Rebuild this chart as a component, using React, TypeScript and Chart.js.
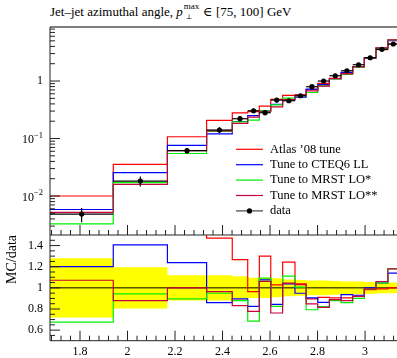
import React, { useEffect, useRef } from "react";
import { Chart, registerables } from "chart.js";
Chart.register(...registerables);

// ---- data ----
const binEdges = [1.6737, 1.94, 2.168, 2.333, 2.441, 2.506, 2.555, 2.603, 2.653, 2.705, 2.752, 2.801, 2.85, 2.899, 2.948, 2.997, 3.046, 3.096, 3.1416];
const dataValues = [0.00486, 0.0182, 0.0614, 0.1406, 0.221, 0.304, 0.281, 0.467, 0.454, 0.555, 0.796, 1.0, 1.236, 1.51, 1.92, 2.54, 3.56, 4.4];
const dataRelErr = [0.28, 0.195, 0.12, 0.12, 0.11, 0.095, 0.095, 0.09, 0.08, 0.075, 0.07, 0.07, 0.065, 0.06, 0.06, 0.055, 0.05, 0.05];
const ratioAtlas = [2.06, 1.95, 1.75, 1.47, 1.267, 0.965, 1.3, 1.029, 1.244, 1.038, 0.895, 0.91, 0.905, 0.905, 0.92, 0.984, 0.99, 1.0];
const ratioCTEQ = [1.2, 1.406, 1.238, 0.86, 0.895, 0.825, 1.076, 0.844, 1.038, 0.949, 0.905, 0.863, 0.889, 0.936, 0.93, 1.0, 1.046, 1.14];
const ratioMRST1 = [0.676, 0.943, 0.895, 0.949, 0.879, 0.686, 1.092, 0.825, 1.11, 1.006, 0.793, 0.822, 0.879, 0.86, 0.9, 0.99, 1.046, 1.18];
const ratioMRST2 = [1.072, 0.879, 1.0, 0.965, 0.831, 0.777, 1.06, 0.762, 1.044, 1.03, 0.848, 0.815, 0.889, 0.879, 0.92, 0.99, 1.06, 1.18];
const seriesNames = ["Atlas \u201908 tune", "Tune to CTEQ6 LL", "Tune to MRST LO*", "Tune to MRST LO**"];
const seriesColors = ["#ff0000", "#0000ff", "#00ee00", "#c8003c"];
const xTicks = [1.8, 2.0, 2.2, 2.4, 2.6, 2.8, 3.0];
const mainYTicks = [0.01, 0.1, 1];
const mainYTickExp = ["\u22122", "\u22121", ""];
const ratioYTicks = [0.6, 0.8, 1.0, 1.2, 1.4];

const X_MIN = binEdges[0];
const X_MAX = binEdges[binEdges.length - 1];
const MAIN_Y_MIN = 0.0021;
const MAIN_Y_MAX = 8.7;
const RATIO_MIN = 0.5;
const RATIO_MAX = 1.5;

const FONT = '"Liberation Serif", "DejaVu Serif", serif';
const AXIS_COLOR = "#222";

function stepPoints(values: number[]) {
  const pts = values.map((v, i) => ({ x: binEdges[i], y: v }));
  pts.push({ x: binEdges[values.length], y: values[values.length - 1] });
  return pts;
}

const ratios = [ratioAtlas, ratioCTEQ, ratioMRST1, ratioMRST2];

function seg(ctx: CanvasRenderingContext2D, x0: number, y0: number, x1: number, y1: number) {
  ctx.beginPath();
  ctx.moveTo(x0, y0);
  ctx.lineTo(x1, y1);
  ctx.stroke();
}

function drawXTicks(ctx: CanvasRenderingContext2D, xs: any, yBase: number) {
  ctx.strokeStyle = AXIS_COLOR;
  ctx.lineWidth = 1;
  for (let k = Math.ceil(X_MIN / 0.04); k * 0.04 <= X_MAX; k++) {
    const v = k * 0.04;
    const major = k % 5 === 0;
    const x = xs.getPixelForValue(v);
    seg(ctx, x, yBase, x, yBase - (major ? 10 : 5));
  }
}

const mainPlugin = {
  id: "mainDecor",
  afterDatasetsDraw(chart: any) {
    const { ctx, scales } = chart;
    const xs = scales.x, ys = scales.y;
    ctx.save();
    ctx.strokeStyle = "#000";
    ctx.lineWidth = 1.2;
    dataValues.forEach((v, i) => {
      const y = ys.getPixelForValue(v);
      const x0 = xs.getPixelForValue(binEdges[i]);
      const x1 = xs.getPixelForValue(binEdges[i + 1]);
      seg(ctx, x0, y, x1, y);
      const xc = xs.getPixelForValue((binEdges[i] + binEdges[i + 1]) / 2);
      const e = dataRelErr[i] * v;
      seg(ctx, xc, ys.getPixelForValue(v + e), xc, ys.getPixelForValue(v - e));
    });
    ctx.restore();
  },
  afterDraw(chart: any) {
    const { ctx, chartArea: a, scales } = chart;
    const xs = scales.x, ys = scales.y;
    ctx.save();
    // frame
    ctx.strokeStyle = "#555";
    ctx.lineWidth = 1.5;
    seg(ctx, a.left, a.top, a.right, a.top);
    ctx.strokeStyle = AXIS_COLOR;
    ctx.lineWidth = 1;
    seg(ctx, a.left, a.top, a.left, a.bottom);
    seg(ctx, a.left, a.bottom, a.right, a.bottom);
    // y ticks (log)
    for (let k = -3; k <= 1; k++) {
      for (let m = 1; m <= 9; m++) {
        const v = m * Math.pow(10, k);
        if (v < MAIN_Y_MIN || v > MAIN_Y_MAX) continue;
        const y = ys.getPixelForValue(v);
        seg(ctx, a.left, y, a.left + (m === 1 ? 10 : 5), y);
      }
    }
    drawXTicks(ctx, xs, a.bottom);
    // y labels
    ctx.fillStyle = "#000";
    ctx.textBaseline = "middle";
    ctx.textAlign = "right";
    const xr = a.left - 7;
    mainYTicks.forEach((v, i) => {
      const y = ys.getPixelForValue(v);
      const exp = mainYTickExp[i];
      if (exp) {
        ctx.font = `8.5px ${FONT}`;
        const w = ctx.measureText(exp).width;
        ctx.fillText(exp, xr, y - 3);
        ctx.font = `12px ${FONT}`;
        ctx.fillText("10", xr - w, y + 1.5);
      } else {
        ctx.font = `12px ${FONT}`;
        ctx.fillText("1", xr, y);
      }
    });
    // legend
    const lx0 = 236, lx1 = 263, tx = 270, ly0 = 149.3, dy = 15.4;
    ctx.textAlign = "left";
    ctx.font = `12.5px ${FONT}`;
    seriesNames.forEach((name, i) => {
      const y = ly0 + i * dy;
      ctx.strokeStyle = seriesColors[i];
      ctx.lineWidth = 1.2;
      seg(ctx, lx0, y, lx1, y);
      ctx.fillStyle = "#000";
      ctx.fillText(name, tx, y);
    });
    const yd = ly0 + 4 * dy;
    ctx.strokeStyle = "#444";
    ctx.lineWidth = 1.2;
    seg(ctx, lx0, yd, lx1, yd);
    ctx.fillStyle = "#000";
    ctx.beginPath();
    ctx.arc((lx0 + lx1) / 2, yd, 2.6, 0, Math.PI * 2);
    ctx.fill();
    ctx.fillText("data", tx, yd);
    ctx.restore();
  },
};

const ratioPlugin = {
  id: "ratioDecor",
  afterDraw(chart: any) {
    const { ctx, chartArea: a, scales } = chart;
    const xs = scales.x, ys = scales.y;
    ctx.save();
    ctx.strokeStyle = AXIS_COLOR;
    ctx.lineWidth = 1;
    seg(ctx, a.left, a.top, a.left, a.bottom);
    seg(ctx, a.left, a.bottom, a.right, a.bottom);
    for (let k = Math.ceil(RATIO_MIN / 0.05 + 1e-6); k * 0.05 < RATIO_MAX - 1e-6; k++) {
      const v = k * 0.05;
      const major = k % 4 === 0;
      const y = ys.getPixelForValue(v);
      seg(ctx, a.left, y, a.left + (major ? 10 : 5), y);
    }
    drawXTicks(ctx, xs, a.bottom);
    ctx.restore();
  },
};

const fmt = (v: number) => String(Math.round(v * 10) / 10);

export default function App() {
  const mainRef = useRef<HTMLCanvasElement>(null);
  const ratioRef = useRef<HTMLCanvasElement>(null);

  useEffect(() => {
    const base: any = {
      animation: false,
      responsive: false,
      maintainAspectRatio: false,
      events: [],
      plugins: { legend: { display: false }, tooltip: { enabled: false }, title: { display: false } },
      elements: { point: { radius: 0 } },
    };
    const mcMain = ratios.map((r, s) => ({
      label: seriesNames[s],
      data: stepPoints(r.map((q, i) => q * dataValues[i])),
      stepped: true,
      borderColor: seriesColors[s],
      borderWidth: 1.2,
      pointRadius: 0,
      fill: false,
      order: 4 - s,
    }));
    const main = new Chart(mainRef.current!, {
      type: "line",
      data: {
        datasets: [
          {
            label: "data",
            data: dataValues.map((v, i) => ({ x: (binEdges[i] + binEdges[i + 1]) / 2, y: v })),
            showLine: false,
            pointRadius: 2.6,
            pointBackgroundColor: "#000",
            pointBorderWidth: 0,
            borderColor: "#000",
            order: 0,
          } as any,
          ...mcMain,
        ],
      },
      options: {
        ...base,
        layout: { padding: { left: 50, right: 405 - 398.7, top: 27, bottom: 5 } },
        scales: {
          x: { type: "linear", min: X_MIN, max: X_MAX, display: false },
          y: { type: "logarithmic", min: MAIN_Y_MIN, max: MAIN_Y_MAX, display: false },
        },
      },
      plugins: [mainPlugin],
    });

    const ratio = new Chart(ratioRef.current!, {
      type: "line",
      data: {
        datasets: [
          {
            label: "band+",
            data: stepPoints(dataRelErr.map((e) => 1 + e)),
            stepped: true,
            borderColor: "rgba(0,0,0,0)",
            borderWidth: 0,
            backgroundColor: "#ffff00",
            fill: "+1",
            order: 20,
          } as any,
          {
            label: "band-",
            data: stepPoints(dataRelErr.map((e) => 1 - e)),
            stepped: true,
            borderColor: "rgba(0,0,0,0)",
            borderWidth: 0,
            fill: false,
            order: 21,
          },
          {
            label: "unity",
            data: [{ x: X_MIN, y: 1 }, { x: X_MAX, y: 1 }],
            borderColor: "#000",
            borderWidth: 1,
            fill: false,
            order: 10,
          },
          ...ratios.map((r, s) => ({
            label: seriesNames[s],
            data: stepPoints(r),
            stepped: true,
            borderColor: seriesColors[s],
            borderWidth: 1.2,
            pointRadius: 0,
            fill: false,
            order: 4 - s,
          })),
        ],
      },
      options: {
        ...base,
        layout: { padding: { left: 0, right: 405 - 398.7, top: 5, bottom: 0 } },
        scales: {
          x: {
            type: "linear",
            min: X_MIN,
            max: X_MAX,
            afterBuildTicks: (s: any) => { s.ticks = xTicks.map((v) => ({ value: v })); },
            afterFit: (s: any) => { s.height = 17.3; s.paddingLeft = 0; s.paddingRight = 0; },
            grid: { display: false, drawTicks: false },
            border: { display: false },
            ticks: { callback: (v: any) => fmt(Number(v)), font: { family: FONT, size: 12 }, color: "#000", padding: 4, maxRotation: 0, autoSkip: false },
          },
          y: {
            type: "linear",
            min: RATIO_MIN,
            max: RATIO_MAX,
            afterBuildTicks: (s: any) => { s.ticks = ratioYTicks.map((v) => ({ value: v })); },
            afterFit: (s: any) => { s.width = 50; s.paddingTop = 0; s.paddingBottom = 0; },
            grid: { display: false, drawTicks: false },
            border: { display: false },
            ticks: { callback: (v: any) => fmt(Number(v)), font: { family: FONT, size: 12 }, color: "#000", padding: 7, autoSkip: false },
            title: { display: true, text: "MC/data", align: "end", color: "#000", font: { family: FONT, size: 14 }, padding: { top: 4, bottom: 0 } },
          },
        },
      } as any,
      plugins: [ratioPlugin],
    });
    return () => {
      main.destroy();
      ratio.destroy();
    };
  }, []);

  return (
    <div style={{ position: "fixed", left: 0, top: 0, width: 397, height: 358, overflow: "hidden", background: "#fff" }}>
      <div style={{ position: "absolute", left: 50, top: 4, font: `13px ${FONT}`, lineHeight: "16px", whiteSpace: "nowrap", color: "#000" }}>
        Jet–jet azimuthal angle, <i>p</i>
        <span style={{ position: "relative", display: "inline-block", width: 17, height: 10 }}>
          <span style={{ position: "absolute", left: 1, top: -4, fontSize: 9, lineHeight: "9px" }}>max</span>
          <span style={{ position: "absolute", left: 3, top: 8, fontSize: 7, lineHeight: "7px" }}>⊥</span>
        </span>
        {" \u2208 [75, 100] GeV"}
      </div>
      <canvas ref={mainRef} width={405} height={240} style={{ position: "absolute", left: 0, top: 0, width: 405, height: 240 }} />
      <canvas ref={ratioRef} width={405} height={128} style={{ position: "absolute", left: 0, top: 230, width: 405, height: 128 }} />
    </div>
  );
}
